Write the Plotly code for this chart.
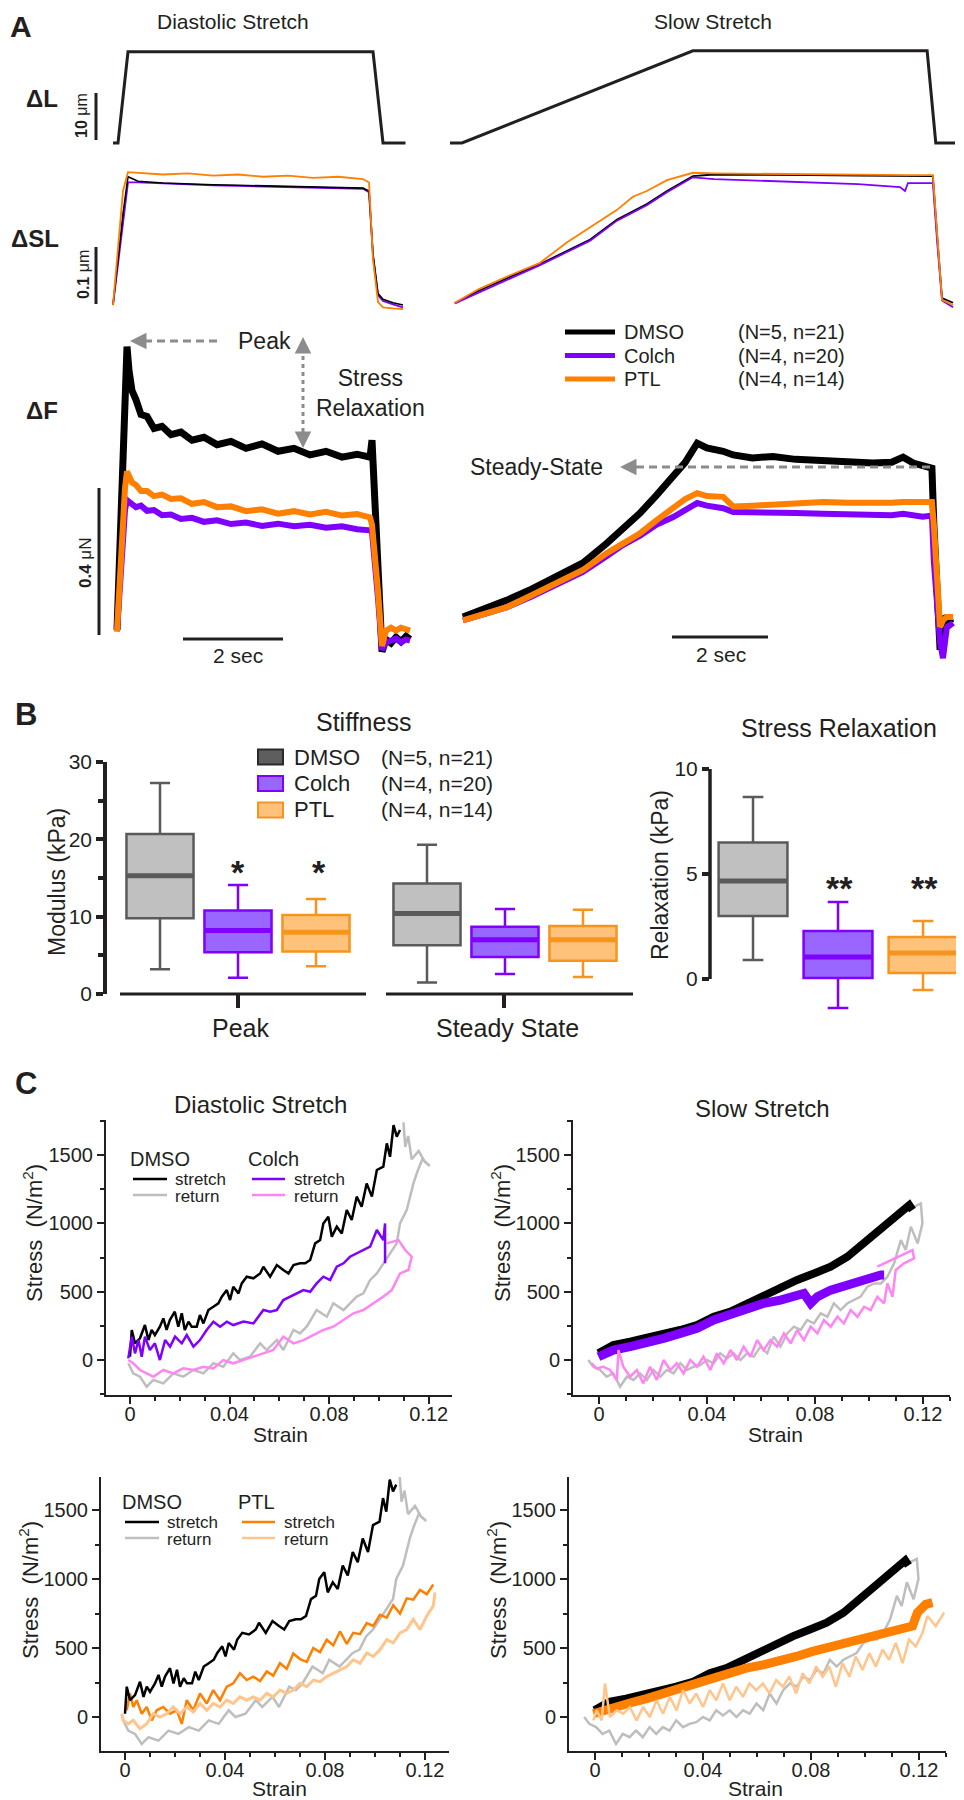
import plotly.graph_objects as go

W, H = 964, 1800
OX, OY = 8, 8          # page body margin: the figure div starts 8 px in
FW, FH = W - OX, H - OY
FONT = "Liberation Sans, Arial, sans-serif"
INK = "#231F20"
ARROW_GRAY = "#8C8C8C"

BLACK = "#000000"
PURPLE = "#7F00FF"
ORANGE = "#FF7F00"
GRAY_RET = "#BEBEBE"
PINK_RET = "#FF85F3"
LIGHT_OR_RET = "#FFC58C"

# ---------------- Panel A data (time in s) ----------------
DL_LEFT_T = [0, 0.1, 0.3, 5.2, 5.4, 5.85]
DL_LEFT = [0, 0, 19.4, 19.4, 0, 0]
DL_SLOW_T = [0, 0.25, 5.06, 9.94, 10.12, 10.52]
DL_SLOW = [0, 0, 19.6, 19.6, 0, 0]

SL_LEFT_T = [0, 0.1, 0.2, 0.3, 0.5, 1.0, 1.5, 2.0, 2.5, 3.0, 3.5, 4.0, 4.5, 5.0, 5.12, 5.2, 5.3, 5.4, 5.6, 5.8]
SL_LEFT_DMSO = [0, 0.08, 0.16, 0.225, 0.217, 0.214, 0.212, 0.211, 0.21, 0.209, 0.208, 0.207, 0.206, 0.205, 0.2, 0.09, 0.02, 0.01, 0.004, 0.0]
SL_LEFT_COLCH = [0, 0.07, 0.15, 0.215, 0.215, 0.213, 0.211, 0.21, 0.209, 0.208, 0.207, 0.206, 0.205, 0.204, 0.198, 0.085, 0.017, 0.007, 0.001, -0.004]
SL_LEFT_PTL = [0, 0.1, 0.2, 0.233, 0.232, 0.229, 0.231, 0.227, 0.229, 0.225, 0.227, 0.223, 0.225, 0.221, 0.215, 0.08, 0.005, -0.004, -0.006, -0.007]

SL_SLOW_T = [0.1, 0.6, 1.19, 1.875, 2.44, 2.92, 3.48, 3.81, 4.1, 4.52, 5.06, 5.5, 6.5, 7.5, 8.5, 9.375, 9.48, 9.54, 10.06, 10.15, 10.25, 10.48]
SL_SLOW_DMSO = [0.003, 0.025, 0.047, 0.072, 0.095, 0.115, 0.15, 0.165, 0.177, 0.2, 0.226, 0.229, 0.229, 0.228, 0.227, 0.227, 0.227, 0.227, 0.226, 0.12, 0.012, 0.004]
SL_SLOW_COLCH = [0.003, 0.022, 0.045, 0.07, 0.093, 0.113, 0.148, 0.163, 0.175, 0.198, 0.224, 0.221, 0.218, 0.215, 0.212, 0.207, 0.2, 0.214, 0.214, 0.11, 0.008, -0.004]
SL_SLOW_PTL = [0.004, 0.028, 0.05, 0.074, 0.11, 0.137, 0.167, 0.19, 0.2, 0.219, 0.232, 0.231, 0.23, 0.23, 0.229, 0.228, 0.228, 0.228, 0.228, 0.126, 0.009, 0.0]

F_LEFT_T = [0.08, 0.16, 0.24, 0.28, 0.32, 0.38, 0.46, 0.56, 0.68, 0.82, 0.98, 1.16, 1.36, 1.58, 1.82, 2.08, 2.36, 2.66, 2.98,
            3.3, 3.62, 3.94, 4.26, 4.58, 4.88, 5.14, 5.18, 5.24, 5.3, 5.38, 5.46, 5.56, 5.66, 5.76, 5.86, 5.94]
F_LEFT_DMSO = [0.014, 0.35, 0.66, 0.785, 0.72, 0.665, 0.64, 0.6, 0.595, 0.562, 0.568, 0.545, 0.552, 0.53, 0.538, 0.518, 0.527, 0.508,
               0.52, 0.5, 0.508, 0.49, 0.5, 0.484, 0.492, 0.484, 0.53, 0.38, 0.2, -0.045, -0.012, -0.022, -0.006, -0.018, -0.004, -0.012]
F_LEFT_COLCH = [0.01, 0.2, 0.34, 0.367, 0.36, 0.356, 0.348, 0.352, 0.338, 0.34, 0.326, 0.328, 0.316, 0.319, 0.308, 0.312, 0.302, 0.306,
                0.297, 0.303, 0.296, 0.3, 0.292, 0.296, 0.288, 0.285, 0.28, 0.2, 0.1, -0.04, -0.02, -0.015, -0.01, -0.02, -0.012, -0.015]
F_LEFT_PTL = [0.01, 0.22, 0.4, 0.445, 0.43, 0.415, 0.408, 0.392, 0.392, 0.378, 0.382, 0.37, 0.372, 0.357, 0.362, 0.348, 0.35, 0.337,
              0.342, 0.33, 0.337, 0.328, 0.335, 0.325, 0.329, 0.32, 0.3, 0.22, 0.12, -0.03, 0.012, 0.02, 0.012, 0.02, 0.015, 0.012]

F_SLOW_T = [0.27, 0.7, 1.19, 1.7, 2.23, 2.77, 3.27, 3.6, 3.96, 4.3, 4.65, 4.9, 5.15, 5.35, 5.69, 5.9, 6.3, 6.73, 7.2, 7.77, 8.3,
            8.81, 9.2, 9.44, 9.65, 9.85, 10.04, 10.08, 10.15, 10.21, 10.27, 10.35, 10.48]
F_SLOW_DMSO = [0.049, 0.07, 0.095, 0.125, 0.158, 0.196, 0.25, 0.29, 0.332, 0.38, 0.43, 0.47, 0.522, 0.509, 0.5, 0.49, 0.482, 0.486,
               0.478, 0.474, 0.47, 0.468, 0.47, 0.484, 0.468, 0.46, 0.454, 0.3, 0.1, -0.04, 0.049, 0.04, 0.045]
F_SLOW_COLCH = [0.04, 0.058, 0.076, 0.105, 0.139, 0.172, 0.215, 0.245, 0.27, 0.3, 0.321, 0.34, 0.359, 0.352, 0.345, 0.335, 0.333,
                0.333, 0.332, 0.33, 0.328, 0.327, 0.326, 0.33, 0.325, 0.322, 0.325, 0.2, 0.08, -0.02, -0.063, 0.02, 0.033]
F_SLOW_PTL = [0.04, 0.058, 0.076, 0.108, 0.141, 0.177, 0.223, 0.25, 0.277, 0.312, 0.348, 0.37, 0.386, 0.378, 0.376, 0.35, 0.352,
              0.354, 0.358, 0.362, 0.36, 0.359, 0.36, 0.362, 0.361, 0.36, 0.362, 0.3, 0.141, 0.022, 0.04, 0.049, 0.049]

SCALE_DL = 10      # um
SCALE_SL = 0.1     # um
SCALE_F = 0.4      # uN
SCALE_T = 2        # s

# ---------------- Panel B data (kPa) ----------------
DRUGS = ["DMSO", "Colch", "PTL"]
DRUG_N = ["(N=5, n=21)", "(N=4, n=20)", "(N=4, n=14)"]
STIFF_GROUPS = ["Peak", "Steady State"]
PEAK_LO = [3.2, 2.1, 3.6]
PEAK_Q1 = [9.8, 5.4, 5.5]
PEAK_MED = [15.3, 8.2, 8.0]
PEAK_Q3 = [20.7, 10.8, 10.2]
PEAK_HI = [27.3, 14.1, 12.3]
SS_LO = [1.5, 2.6, 2.2]
SS_Q1 = [6.3, 4.8, 4.3]
SS_MED = [10.4, 7.0, 7.0]
SS_Q3 = [14.3, 8.7, 8.8]
SS_HI = [19.3, 11.0, 10.9]
REL_LO = [0.9, -1.38, -0.52]
REL_Q1 = [3.0, 0.05, 0.29]
REL_MED = [4.67, 1.05, 1.24]
REL_Q3 = [6.5, 2.29, 2.0]
REL_HI = [8.67, 3.67, 2.76]
PEAK_SIG = ["", "*", "*"]
REL_SIG = ["", "**", "**"]

# ---------------- Panel C data (strain, stress N/m^2) ----------------
DIA_DMSO_S_X = [0, 0.0007, 0.002, 0.004, 0.006, 0.0074, 0.0087, 0.010, 0.012, 0.0134, 0.0147, 0.016, 0.018, 0.0194, 0.0208, 0.022,
                0.0235, 0.0248, 0.0268, 0.0281, 0.0295, 0.0315, 0.0335, 0.0355, 0.0369, 0.0389, 0.0402, 0.0415, 0.0436, 0.0449, 0.0469,
                0.0496, 0.0523, 0.0536, 0.0563, 0.059, 0.0616, 0.0637, 0.0657, 0.0683, 0.0704, 0.0724, 0.0744, 0.0764, 0.0777, 0.0797,
                0.0811, 0.0831, 0.0851, 0.0871, 0.0891, 0.0911, 0.0931, 0.0951, 0.0972, 0.0992, 0.1018, 0.1032, 0.1045, 0.1059, 0.1072, 0.1085]
DIA_DMSO_S_Y = [24, 220, 122, 159, 256, 146, 220, 183, 244, 305, 220, 293, 354, 244, 342, 220, 281, 244, 244, 329, 268, 366, 390, 415,
                464, 512, 439, 537, 488, 561, 610, 598, 634, 683, 610, 695, 659, 634, 695, 708, 708, 732, 854, 878, 1000, 1049, 903, 976,
                927, 1098, 1025, 1196, 1122, 1293, 1196, 1391, 1415, 1586, 1488, 1720, 1635, 1684]
DIA_DMSO_R_X = [0.1099, 0.1106, 0.1118, 0.1132, 0.116, 0.1185, 0.1205, 0.1175, 0.1155, 0.1139, 0.1112, 0.1085, 0.1072, 0.1045, 0.1018,
                0.0992, 0.0965, 0.0938, 0.0911, 0.0884, 0.0858, 0.0817, 0.0791, 0.075, 0.071, 0.0683, 0.0657, 0.0616, 0.059, 0.0549,
                0.0523, 0.0482, 0.0442, 0.0415, 0.0375, 0.0335, 0.0295, 0.0255, 0.0214, 0.0174, 0.0134, 0.0094, 0.0067, 0.004, 0.0013, -0.0007]
DIA_DMSO_R_Y = [1740, 1560, 1640, 1470, 1530, 1450, 1420, 1470, 1380, 1293, 1098, 1000, 854, 781, 708, 634, 586, 488, 464, 415, 366,
                415, 317, 366, 244, 195, 220, 73, 146, 73, 122, 24, 0, 49, -49, -24, -98, -73, -122, -98, -171, -146, -195, -122, -98, -24]
DIA_COLCH_S_X = [-0.0007, 0.0007, 0.002, 0.0034, 0.0047, 0.006, 0.008, 0.010, 0.012, 0.0141, 0.0161, 0.0181, 0.0208, 0.0228, 0.0255,
                 0.0281, 0.0308, 0.0335, 0.0362, 0.0389, 0.0415, 0.0456, 0.0496, 0.0536, 0.0563, 0.059, 0.0616, 0.0643, 0.067, 0.0697,
                 0.0724, 0.075, 0.0777, 0.0804, 0.0831, 0.0858, 0.0884, 0.0911, 0.0938, 0.0965, 0.0992, 0.1018, 0.1025, 0.1025]
DIA_COLCH_S_Y = [12, 171, 49, 146, 24, 171, 73, 122, 0, 146, 98, 171, 122, 183, 98, 146, 220, 281, 244, 281, 256, 281, 268, 366, 354,
                 366, 439, 464, 488, 512, 500, 561, 610, 586, 683, 708, 756, 781, 805, 830, 952, 878, 1000, 708]
DIA_COLCH_R_X = [0.1032, 0.1079, 0.1106, 0.1132, 0.1119, 0.1085, 0.1052, 0.1018, 0.0978, 0.0938, 0.0898, 0.0858, 0.0817, 0.0777, 0.0737,
                 0.0697, 0.0657, 0.0616, 0.0576, 0.0536, 0.0496, 0.0456, 0.0415, 0.0375, 0.0335, 0.0295, 0.0255, 0.0214, 0.0174, 0.0134,
                 0.0094, 0.0067, 0.004, 0.0013, -0.0007]
DIA_COLCH_R_Y = [854, 878, 805, 756, 659, 634, 512, 464, 415, 366, 342, 293, 244, 220, 183, 146, 122, 171, 73, 49, 24, 0, -24, 0, -61,
                 -49, -73, -61, -98, -73, -122, -98, -73, -24, 0]
DIA_PTL_S_X = [0.0007, 0.002, 0.0033, 0.0047, 0.0067, 0.0087, 0.0107, 0.0127, 0.0153, 0.018, 0.0207, 0.0227, 0.0247, 0.0273, 0.03,
               0.0327, 0.0353, 0.038, 0.0407, 0.0433, 0.046, 0.0487, 0.0513, 0.054, 0.0567, 0.0593, 0.062, 0.0647, 0.0673, 0.07, 0.0727,
               0.0753, 0.078, 0.0807, 0.0833, 0.086, 0.0887, 0.0913, 0.094, 0.0967, 0.0993, 0.102, 0.1047, 0.1073, 0.11, 0.1127, 0.1153,
               0.118, 0.1207, 0.1233]
DIA_PTL_S_Y = [49, 171, 73, 122, 24, 73, -24, 49, 73, 24, 49, -49, 122, 49, 171, 98, 195, 122, 220, 244, 317, 268, 293, 260, 330, 300,
               390, 350, 460, 420, 400, 500, 470, 560, 520, 620, 530, 610, 600, 680, 660, 740, 720, 810, 750, 860, 850, 920, 890, 960]
DIA_PTL_R_X = [0.124, 0.1233, 0.1207, 0.118, 0.1153, 0.1127, 0.11, 0.1073, 0.1047, 0.102, 0.0993, 0.0967, 0.094, 0.0913, 0.0887, 0.086,
               0.0833, 0.0807, 0.078, 0.0753, 0.0727, 0.07, 0.0673, 0.0647, 0.062, 0.0593, 0.0567, 0.054, 0.0513, 0.0487, 0.046, 0.0433,
               0.0407, 0.038, 0.0353, 0.0327, 0.03, 0.0273, 0.0247, 0.022, 0.0193, 0.0167, 0.014, 0.0113, 0.0087, 0.006, 0.0033, 0.0013,
               -0.0007, -0.0013]
DIA_PTL_R_Y = [903, 805, 732, 634, 708, 634, 610, 537, 561, 488, 439, 464, 390, 415, 366, 342, 317, 293, 256, 268, 220, 244, 195, 171,
               195, 146, 171, 122, 146, 122, 146, 98, 122, 73, 98, 49, 98, 37, 73, 24, 73, 24, 0, 24, -49, -85, -24, -49, -24, 24]

SLOW_DMSO_S_X = [-0.0002, 0.0053, 0.0115, 0.0177, 0.0239, 0.0301, 0.0363, 0.0425, 0.0487, 0.0548, 0.061, 0.0672, 0.0734, 0.0796,
                 0.0858, 0.092, 0.0982, 0.1044, 0.1106, 0.1149, 0.1161]
SLOW_DMSO_S_Y = [49, 110, 134, 159, 190, 220, 256, 317, 354, 415, 476, 537, 586, 634, 683, 756, 854, 963, 1061, 1134, 1098]
SLOW_DMSO_R_X = [0.1167, 0.1192, 0.1198, 0.118, 0.1155, 0.1136, 0.1118, 0.1093, 0.1068, 0.1044, 0.1019, 0.0994, 0.0969, 0.0945, 0.092,
                 0.0895, 0.087, 0.0846, 0.0821, 0.0796, 0.0771, 0.0747, 0.0722, 0.0697, 0.0672, 0.0647, 0.0623, 0.0598, 0.0573, 0.0548,
                 0.0524, 0.0499, 0.0474, 0.0449, 0.0425, 0.04, 0.0375, 0.035, 0.0326, 0.0301, 0.0276, 0.0251, 0.0227, 0.0202, 0.0177,
                 0.0152, 0.0128, 0.0103, 0.0078, 0.0053, 0.0028, 0.0004, -0.0021, -0.004]
SLOW_DMSO_R_Y = [1122, 1146, 1000, 854, 976, 805, 878, 708, 610, 561, 561, 537, 464, 439, 415, 366, 415, 317, 342, 268, 293, 220, 244,
                 195, 98, 171, 49, 98, 24, 49, 0, 49, 12, 49, -24, 0, -37, -49, -73, -24, -98, -73, -122, -73, -146, -98, -146, -122,
                 -195, -98, -122, -73, -49, 0]
SLOW_COLCH_S_X = [-0.0002, 0.0053, 0.0115, 0.0177, 0.0239, 0.0301, 0.0363, 0.0425, 0.0487, 0.0548, 0.061, 0.0672, 0.0734, 0.0759,
                  0.0784, 0.0809, 0.0858, 0.092, 0.0982, 0.1044, 0.1056]
SLOW_COLCH_S_Y = [24, 73, 98, 122, 159, 195, 232, 293, 337, 378, 415, 439, 468, 488, 415, 464, 512, 556, 586, 622, 622]
SLOW_COLCH_R_X = [0.1031, 0.1081, 0.113, 0.1161, 0.1167, 0.113, 0.1099, 0.1087, 0.1068, 0.1056, 0.1031, 0.1006, 0.0982, 0.0957, 0.0932,
                  0.0907, 0.0883, 0.0858, 0.0833, 0.0809, 0.0784, 0.0759, 0.0734, 0.071, 0.0685, 0.066, 0.0635, 0.061, 0.0586, 0.0561,
                  0.0536, 0.0511, 0.0487, 0.0462, 0.0437, 0.0412, 0.0387, 0.0363, 0.0338, 0.0313, 0.0288, 0.0264, 0.0239, 0.0214,
                  0.0189, 0.0164, 0.014, 0.0115, 0.009, 0.0072, 0.0066, 0.0041, 0.0016, -0.0009, -0.0027]
SLOW_COLCH_R_Y = [683, 732, 780, 805, 744, 708, 659, 463, 561, 415, 463, 366, 390, 317, 366, 268, 317, 244, 293, 195, 244, 146, 220,
                  122, 195, 98, 146, 73, 146, 24, 98, 0, 73, -24, 49, -73, 24, -49, 0, -98, -24, -73, 0, -146, -49, -171, -73, -122,
                  -49, 73, -146, -73, -49, -61, -24]
SLOW_PTL_S_X = [-0.0006, 0.0068, 0.0129, 0.0191, 0.0252, 0.0314, 0.0375, 0.0437, 0.0499, 0.056, 0.0622, 0.0683, 0.0745, 0.0806, 0.0868,
                0.0929, 0.0991, 0.1053, 0.1114, 0.1176, 0.1194, 0.1225, 0.125]
SLOW_PTL_S_Y = [24, 73, 102, 134, 171, 207, 249, 288, 322, 354, 378, 402, 439, 476, 507, 541, 573, 598, 622, 659, 756, 817, 829]
SLOW_PTL_R_X = [0.1293, 0.1262, 0.1231, 0.1213, 0.1188, 0.1163, 0.1139, 0.1114, 0.1089, 0.1065, 0.104, 0.1016, 0.0991, 0.0966, 0.0942,
                0.0917, 0.0892, 0.0868, 0.0843, 0.0819, 0.0794, 0.0769, 0.0745, 0.072, 0.0696, 0.0671, 0.0646, 0.0622, 0.0597, 0.0572,
                0.0548, 0.0523, 0.0499, 0.0474, 0.0449, 0.0425, 0.04, 0.0375, 0.0351, 0.0326, 0.0302, 0.0277, 0.0252, 0.0228, 0.0203,
                0.0178, 0.0154, 0.0129, 0.0105, 0.008, 0.0055, 0.0037, 0.0025, 0.0006, -0.0006]
SLOW_PTL_R_Y = [756, 659, 732, 610, 512, 561, 390, 537, 415, 488, 366, 463, 342, 439, 293, 390, 220, 366, 293, 366, 244, 317, 171, 293,
                220, 268, 171, 244, 195, 244, 146, 220, 122, 244, 122, 195, 73, 171, 98, 195, 49, 146, 24, 122, 0, 73, -24, 73, 24, 49,
                0, 244, -24, 49, -24]

# ---------------- figure helpers ----------------
fig = go.Figure()
axes_layout = {}
annotations = []
shapes = []


def fx(px):
    return (px - OX) / FW


def fy(py):
    return 1 - (py - OY) / FH


def make_axes(n, xpx, ypx, xr, yr):
    s = "" if n == 1 else str(n)
    axes_layout["xaxis" + s] = dict(domain=[fx(xpx[0]), fx(xpx[1])], range=xr, anchor="y" + s, visible=False, automargin=False)
    axes_layout["yaxis" + s] = dict(domain=[fy(ypx[1]), fy(ypx[0])], range=yr, anchor="x" + s, visible=False, automargin=False)
    return "x" + s, "y" + s


def add_line(ax, x, y, color, width):
    fig.add_trace(go.Scatter(x=x, y=y, mode="lines", line=dict(color=color, width=width),
                             xaxis=ax[0], yaxis=ax[1], hoverinfo="skip", showlegend=False))


def text(px, py, s, size, xanchor="center", angle=0, color=INK):
    annotations.append(dict(x=fx(px), y=fy(py), xref="paper", yref="paper", text=s, showarrow=False,
                            xanchor=xanchor, yanchor="middle", textangle=angle,
                            font=dict(family=FONT, size=size, color=color)))


def seg(x0, y0, x1, y1, color, width, dash=None):
    shapes.append(dict(type="line", xref="paper", yref="paper", x0=fx(x0), y0=fy(y0), x1=fx(x1), y1=fy(y1),
                       line=dict(color=color, width=width, dash=dash)))


def rect(x0, y0, x1, y1, fill, edge):
    shapes.append(dict(type="rect", xref="paper", yref="paper", x0=fx(x0), y0=fy(y0), x1=fx(x1), y1=fy(y1),
                       fillcolor=fill, line=dict(color=edge, width=2)))


def arrowhead(px, py, dx, dy):
    annotations.append(dict(x=fx(px), y=fy(py), xref="paper", yref="paper", ax=dx, ay=dy, text="",
                            showarrow=True, arrowhead=2, arrowsize=1.1, arrowwidth=3, arrowcolor=ARROW_GRAY))


# ---------------- Panel A ----------------
a_dl_l = make_axes(1, (90, 420), (40, 150), [-0.46, 6.14], [-1.49, 21.91])
a_dl_r = make_axes(2, (440, 964), (40, 150), [-0.208, 10.708], [-1.49, 21.91])
a_sl_l = make_axes(3, (90, 420), (160, 315), [-0.46, 6.14], [-0.0175, 0.2544])
a_sl_r = make_axes(4, (440, 964), (160, 315), [-0.208, 10.708], [-0.0175, 0.2544])
a_f_l = make_axes(5, (90, 420), (330, 665), [-0.46, 6.14], [-0.0816, 0.83])
a_f_r = make_axes(6, (440, 964), (330, 665), [-0.208, 10.708], [-0.0816, 0.83])

add_line(a_dl_l, DL_LEFT_T, DL_LEFT, INK, 3)
add_line(a_dl_r, DL_SLOW_T, DL_SLOW, INK, 3)

add_line(a_sl_l, SL_LEFT_T, SL_LEFT_COLCH, PURPLE, 1.8)
add_line(a_sl_l, SL_LEFT_T, SL_LEFT_DMSO, BLACK, 1.6)
add_line(a_sl_l, SL_LEFT_T, SL_LEFT_PTL, ORANGE, 1.8)
add_line(a_sl_r, SL_SLOW_T, SL_SLOW_DMSO, BLACK, 1.8)
add_line(a_sl_r, SL_SLOW_T, SL_SLOW_COLCH, PURPLE, 1.8)
add_line(a_sl_r, SL_SLOW_T, SL_SLOW_PTL, ORANGE, 1.8)

add_line(a_f_l, F_LEFT_T, F_LEFT_DMSO, BLACK, 7)
add_line(a_f_l, F_LEFT_T, F_LEFT_COLCH, PURPLE, 6)
add_line(a_f_l, F_LEFT_T, F_LEFT_PTL, ORANGE, 6)
add_line(a_f_r, F_SLOW_T, F_SLOW_DMSO, BLACK, 7)
add_line(a_f_r, F_SLOW_T, F_SLOW_COLCH, PURPLE, 6)
add_line(a_f_r, F_SLOW_T, F_SLOW_PTL, ORANGE, 6)

# scale bars (data units)
add_line(a_dl_l, [-0.34, -0.34], [0.64, 0.64 + SCALE_DL], INK, 3)
add_line(a_sl_l, [-0.34, -0.34], [0.0018, 0.0018 + SCALE_SL], INK, 3)
add_line(a_f_l, [-0.28, -0.28], [0, SCALE_F], INK, 3)
add_line(a_f_l, [1.4, 1.4 + SCALE_T], [-0.011, -0.011], INK, 3)
add_line(a_f_r, [4.625, 4.625 + SCALE_T], [-0.0054, -0.0054], INK, 3)

text(21, 26, "<b>A</b>", 30)
text(233, 21, "Diastolic Stretch", 21)
text(713, 21, "Slow Stretch", 21)
text(42, 98, "<b>ΔL</b>", 24)
text(35, 238, "<b>ΔSL</b>", 24)
text(42, 410, "<b>ΔF</b>", 24)
text(82, 116, "<b>10</b> μm", 16, angle=-90)
text(83, 275, "<b>0.1</b> μm", 16, angle=-90)
text(85, 563, "<b>0.4</b> μN", 17, angle=-90)
text(238, 656, "2 sec", 21)
text(721, 654, "2 sec", 21)

text(236, 341, "Peak", 23, xanchor="left")
seg(217, 341, 140, 341, ARROW_GRAY, 3, "8px,5px")
arrowhead(130, 341, 12, 0)
text(314, 393, "Stress<br>Relaxation", 23, xanchor="left")
seg(303, 348, 303, 437, ARROW_GRAY, 3, "4px,4px")
arrowhead(303, 337, 0, 12)
arrowhead(303, 448, 0, -12)
text(605, 467, "Steady-State", 23, xanchor="right")
seg(930, 467, 630, 467, ARROW_GRAY, 3, "8px,5px")
arrowhead(620, 467, 12, 0)

for i, (name, col, nlab) in enumerate(zip(DRUGS, [BLACK, PURPLE, ORANGE], DRUG_N)):
    yy = 332 + i * 23.5
    seg(565, yy, 615, yy, col, 5)
    text(622, yy, name, 20, xanchor="left")
    text(736, yy, nlab, 20, xanchor="left")

# ---------------- Panel B ----------------
BOX_FILL = ["#C0C0C0", "#9966FF", "#FFC27A"]
BOX_EDGE = ["#5A5A5A", "#7F00FF", "#F7941D"]
LEG_FILL = ["#5E5E5E", "#9966FF", "#FFC27A"]
LEG_EDGE = ["#2A2A2A", "#7F00FF", "#F7941D"]

b_st = make_axes(7, (107, 640), (762, 994), [0.3205, 7.154], [0, 30])
b_rel = make_axes(8, (710, 964), (769, 1015), [0.494, 3.482], [-1.714, 10])
GROUP_CENTERS = [2, 5.423]
ST_W = 0.86
REL_W = 0.81


def add_box(ax, pos, w, lo, q1, med, q3, hi, i):
    fig.add_trace(go.Box(x=[pos], lowerfence=[lo], q1=[q1], median=[med], q3=[q3], upperfence=[hi],
                         width=w, whiskerwidth=0.3, fillcolor=BOX_FILL[i], boxpoints=False,
                         line=dict(color=BOX_EDGE[i], width=2.5), xaxis=ax[0], yaxis=ax[1],
                         hoverinfo="skip", showlegend=False))
    add_line(ax, [pos - w / 2, pos + w / 2], [med, med], BOX_EDGE[i], 5)


for g, stats in enumerate([(PEAK_LO, PEAK_Q1, PEAK_MED, PEAK_Q3, PEAK_HI), (SS_LO, SS_Q1, SS_MED, SS_Q3, SS_HI)]):
    for i in range(3):
        add_box(b_st, GROUP_CENTERS[g] + (i - 1), ST_W, *[s[i] for s in stats], i)
for i in range(3):
    add_box(b_rel, 1 + i, REL_W, REL_LO[i], REL_Q1[i], REL_MED[i], REL_Q3[i], REL_HI[i], i)

axes_layout["yaxis7"].update(visible=True, showline=True, linecolor=INK, linewidth=3.5, ticks="outside", ticklen=7,
                             tickwidth=3.5, tickcolor=INK, tickvals=[0, 10, 20, 30], showgrid=False, zeroline=False,
                             minor=dict(tickvals=[5, 15, 25], ticks="outside", ticklen=5, tickwidth=3.5, tickcolor=INK),
                             tickfont=dict(family=FONT, size=21, color=INK))
axes_layout["yaxis8"].update(visible=True, showline=False, ticks="outside", ticklen=7, tickwidth=3.5, tickcolor=INK,
                             tickvals=[0, 5, 10], showgrid=False, zeroline=False,
                             tickfont=dict(family=FONT, size=21, color=INK))
seg(710, 769, 710, 979, INK, 3.5)

# segmented category axis
seg(120, 994, 366, 994, INK, 3)
seg(386, 994, 633, 994, INK, 3)
seg(238, 994, 238, 1008, INK, 4)
seg(504, 994, 504, 1008, INK, 4)
text(240, 1028, STIFF_GROUPS[0], 25)
text(507, 1028, STIFF_GROUPS[1], 25)

text(26, 714, "<b>B</b>", 31)
text(363, 722, "Stiffness", 25)
text(839, 728, "Stress Relaxation", 25)
text(57, 882, "Modulus (kPa)", 23, angle=-90)
text(660, 875, "Relaxation (kPa)", 23, angle=-90)
for i in range(3):
    yy = 757 + i * 26.5
    rect(258, yy - 7.5, 283, yy + 7.5, LEG_FILL[i], LEG_EDGE[i])
    text(292, yy, DRUGS[i], 22, xanchor="left")
    text(379, yy, DRUG_N[i], 21, xanchor="left")
for px, s in zip([160, 238, 319], PEAK_SIG):
    if s:
        text(px, 872, "<b>" + s + "</b>", 34)
for px, s in zip([753, 839, 924], REL_SIG):
    if s:
        text(px, 888, "<b>" + s + "</b>", 34)

# ---------------- Panel C ----------------
c_tl = make_axes(9, (106, 452), (1120, 1395), [-0.00965, 0.1294], [-256, 1757])
c_tr = make_axes(10, (573, 950), (1120, 1395), [-0.00963, 0.1300], [-256, 1757])
c_bl = make_axes(11, (101, 449), (1477, 1751), [-0.0096, 0.1296], [-246, 1739])
c_br = make_axes(12, (569, 946), (1477, 1751), [-0.00963, 0.1300], [-246, 1739])

for n in (9, 10, 11, 12):
    axes_layout["xaxis%d" % n].update(visible=True, showline=True, linecolor=INK, linewidth=2, ticks="outside",
                                      ticklen=7, tickwidth=2, tickcolor=INK, tick0=0, dtick=0.04, showgrid=False,
                                      zeroline=False, tickfont=dict(family=FONT, size=20, color=INK),
                                      ticklabelstandoff=-7,
                                      minor=dict(tick0=0, dtick=0.01, ticks="outside", ticklen=4, tickwidth=2, tickcolor=INK))
    axes_layout["yaxis%d" % n].update(visible=True, showline=True, linecolor=INK, linewidth=2, ticks="outside",
                                      ticklen=7, tickwidth=2, tickcolor=INK, tick0=0, dtick=500, showgrid=False,
                                      zeroline=False, tickfont=dict(family=FONT, size=20, color=INK),
                                      minor=dict(tick0=0, dtick=250, ticks="outside", ticklen=4, tickwidth=2, tickcolor=INK))

add_line(c_tl, DIA_DMSO_R_X, DIA_DMSO_R_Y, GRAY_RET, 2.5)
add_line(c_tl, DIA_COLCH_R_X, DIA_COLCH_R_Y, PINK_RET, 2.5)
add_line(c_tl, DIA_DMSO_S_X, DIA_DMSO_S_Y, BLACK, 2.5)
add_line(c_tl, DIA_COLCH_S_X, DIA_COLCH_S_Y, PURPLE, 2.5)

add_line(c_tr, SLOW_DMSO_R_X, SLOW_DMSO_R_Y, GRAY_RET, 2.5)
add_line(c_tr, SLOW_DMSO_S_X, SLOW_DMSO_S_Y, BLACK, 8)
add_line(c_tr, SLOW_COLCH_S_X, SLOW_COLCH_S_Y, PURPLE, 9)
add_line(c_tr, SLOW_COLCH_R_X, SLOW_COLCH_R_Y, PINK_RET, 2.5)

add_line(c_bl, DIA_DMSO_R_X, DIA_DMSO_R_Y, GRAY_RET, 2.5)
add_line(c_bl, DIA_PTL_S_X, DIA_PTL_S_Y, ORANGE, 2.5)
add_line(c_bl, DIA_PTL_R_X, DIA_PTL_R_Y, LIGHT_OR_RET, 3)
add_line(c_bl, DIA_DMSO_S_X, DIA_DMSO_S_Y, BLACK, 2.5)

add_line(c_br, SLOW_DMSO_R_X, SLOW_DMSO_R_Y, GRAY_RET, 2.5)
add_line(c_br, SLOW_DMSO_S_X, SLOW_DMSO_S_Y, BLACK, 8)
add_line(c_br, SLOW_PTL_S_X, SLOW_PTL_S_Y, ORANGE, 9)
add_line(c_br, SLOW_PTL_R_X, SLOW_PTL_R_Y, LIGHT_OR_RET, 2.5)

text(26, 1083, "<b>C</b>", 31)
text(260, 1104, "Diastolic Stretch", 24)
text(762, 1108, "Slow Stretch", 24)
YT = "Stress  (N/m<sup>2</sup>)"
text(33, 1233, YT, 22, angle=-90)
text(501, 1233, YT, 22, angle=-90)
text(29, 1590, YT, 22, angle=-90)
text(497, 1590, YT, 22, angle=-90)
text(280, 1434, "Strain", 21)
text(775, 1434, "Strain", 21)
text(279, 1788, "Strain", 21)
text(755, 1788, "Strain", 21)


def c_legend(x0, y0, name, x1, name2, col_s, col_r):
    text(x0, y0, name, 20, xanchor="left")
    seg(x0 + 5, y0 + 20, x0 + 39, y0 + 20, BLACK, 2.5)
    seg(x0 + 5, y0 + 36, x0 + 39, y0 + 36, GRAY_RET, 2.5)
    text(x0 + 45, y0 + 20, "stretch", 17, xanchor="left")
    text(x0 + 45, y0 + 37, "return", 17, xanchor="left")
    text(x1, y0, name2, 20, xanchor="left")
    seg(x1 + 6, y0 + 20, x1 + 39, y0 + 20, col_s, 2.5)
    seg(x1 + 6, y0 + 36, x1 + 39, y0 + 36, col_r, 2.5)
    text(x1 + 46, y0 + 20, "stretch", 17, xanchor="left")
    text(x1 + 46, y0 + 37, "return", 17, xanchor="left")


c_legend(128, 1159, "DMSO", 246, "Colch", PURPLE, PINK_RET)
c_legend(120, 1502, "DMSO", 236, "PTL", ORANGE, LIGHT_OR_RET)

fig.update_layout(width=FW, height=FH, margin=dict(l=0, r=0, t=0, b=0, autoexpand=False), paper_bgcolor="white",
                  plot_bgcolor="white", showlegend=False, annotations=annotations, shapes=shapes,
                  font=dict(family=FONT, color=INK), **axes_layout)

fig.write_html("out.html")
